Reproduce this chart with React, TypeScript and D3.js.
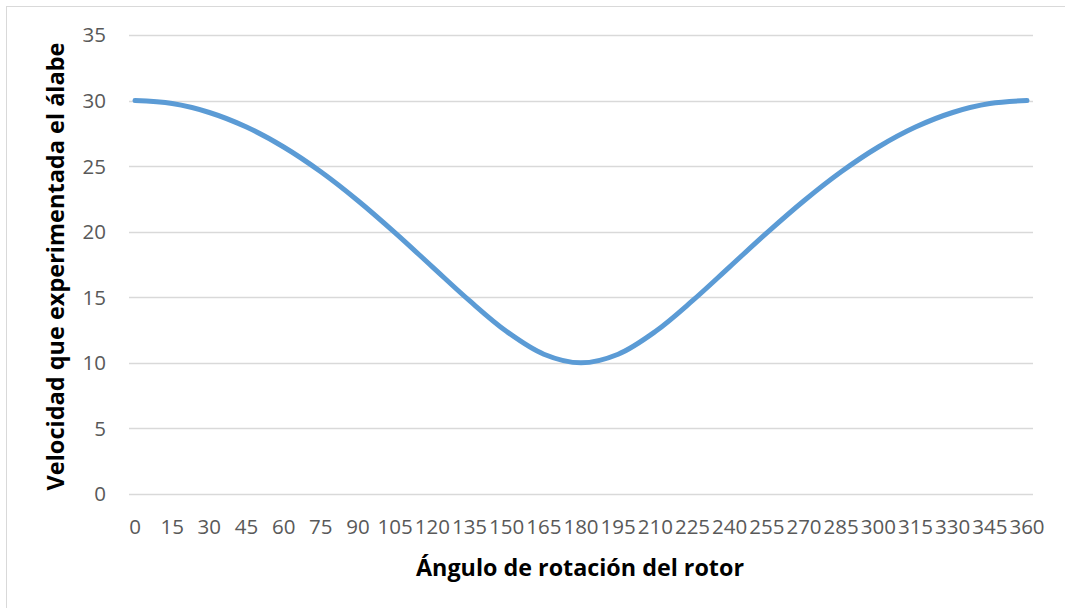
import React from "react";
import * as d3 from "d3";

const angles: string[] = ["0","15","30","45","60","75","90","105","120","135","150","165","180","195","210","225","240","255","270","285","300","315","330","345","360"];
const velocity: number[] = [30, 29.77, 29.09, 27.98, 26.46, 24.57, 22.36, 19.91, 17.32, 14.74, 12.39, 10.66, 10, 10.66, 12.39, 14.74, 17.32, 19.91, 22.36, 24.57, 26.46, 27.98, 29.09, 29.77, 30];
const yTicks: number[] = [0, 5, 10, 15, 20, 25, 30, 35];
const xTitle = "Ángulo de rotación del rotor";
const yTitle = "Velocidad que experimentada el álabe";

const W = 1065, H = 608;
const plotLeft = 129, plotRight = 1033, plotTop = 35, plotBottom = 494;

export default function App() {
  const x = d3.scalePoint<string>().domain(angles).range([135, 1027]);
  const y = d3.scaleLinear().domain([0, 35]).range([plotBottom, plotTop]);
  const line = d3
    .line<number>()
    .x((_, i) => x(angles[i]) as number)
    .y((d) => y(d))
    .curve(d3.curveCatmullRom.alpha(0.5));
  const font = "'Open Sans', 'Liberation Sans', sans-serif";
  return (
    <svg width={W} height={H} style={{ position: "absolute", left: 0, top: 0, background: "#fff" }}>
      <rect x={6.5} y={6.5} width={W + 10} height={H + 10} fill="#fff" stroke="#D9D9D9" strokeWidth={1} />
      {yTicks.map((t) => (
        <line key={"g" + t} x1={plotLeft} x2={plotRight} y1={Math.round(y(t)) + 0.5} y2={Math.round(y(t)) + 0.5} stroke="#D9D9D9" strokeWidth={1.3} />
      ))}
      {yTicks.map((t) => (
        <text key={"yt" + t} x={106} y={y(t)} dy="0.36em" textAnchor="end" fontFamily={font} fontSize={20.5} fill="#595959">
          {t}
        </text>
      ))}
      {angles.map((a) => (
        <text key={"xt" + a} x={x(a) as number} y={534} textAnchor="middle" fontFamily={font} fontSize={20.5} fill="#595959">
          {a}
        </text>
      ))}
      <path d={line(velocity) || ""} fill="none" stroke="#5B9BD5" strokeWidth={5} strokeLinecap="round" strokeLinejoin="round" />
      <text x={580} y={576} textAnchor="middle" fontFamily={font} fontWeight="bold" fontSize={23} fill="#000" textLength={328} lengthAdjust="spacingAndGlyphs">
        {xTitle}
      </text>
      <text transform={`translate(64,${(plotTop + plotBottom) / 2 + 2}) rotate(-90)`} textAnchor="middle" fontFamily={font} fontWeight="bold" fontSize={23} fill="#000" textLength={448} lengthAdjust="spacingAndGlyphs">
        {yTitle}
      </text>
    </svg>
  );
}
